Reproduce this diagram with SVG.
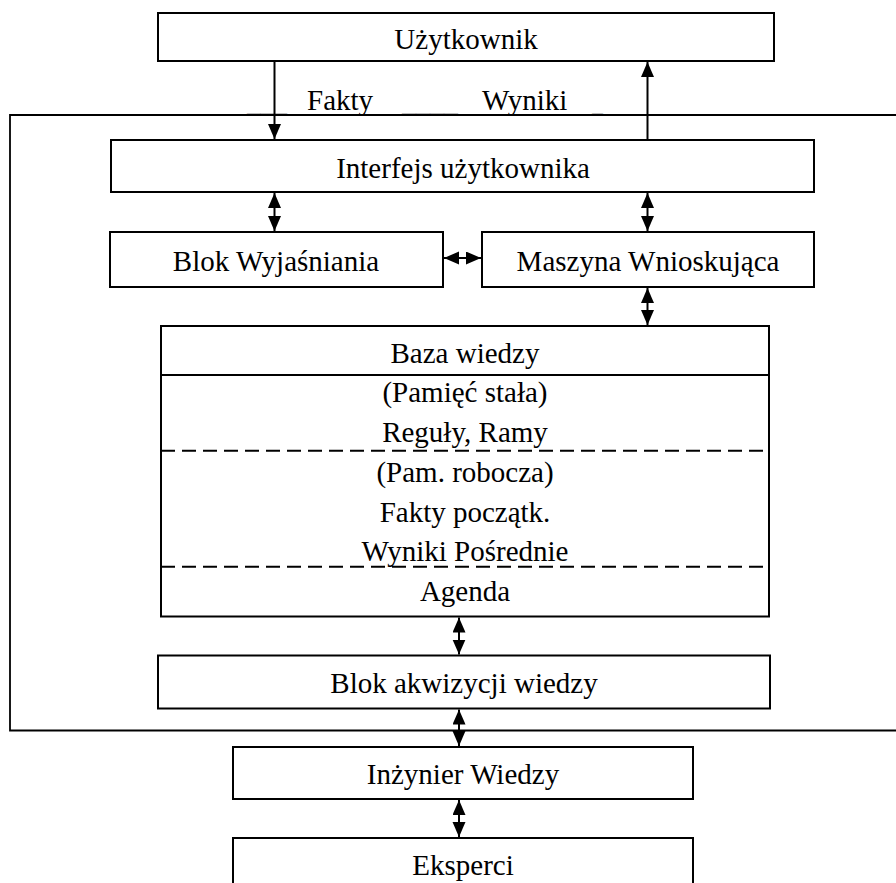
<svg xmlns="http://www.w3.org/2000/svg" width="896" height="883" viewBox="0 0 896 883" font-family="Liberation Serif, DejaVu Serif, serif" font-size="29">
<style>
  .box { fill: #fff; stroke: #000; stroke-width: 2; }
  .t { text-anchor: middle; }
  .c { stroke: #000; stroke-width: 2; fill: none; }
  .dash { stroke: #000; stroke-width: 2; stroke-dasharray: 14 7; fill: none; }
</style>
<defs>
  <marker id="ah" markerUnits="userSpaceOnUse" markerWidth="15" markerHeight="14" refX="15" refY="6.5" orient="auto-start-reverse">
    <path d="M0,0 L15,6.5 L0,13 z" fill="#000"/>
  </marker>
</defs>
<rect width="896" height="883" fill="#fff"/>

<g id="system-boundary">
  <path d="M 900 115 H 10 V 730.5 H 900" fill="none" stroke="#000" stroke-width="1.8"/>
</g>

<g id="uzytkownik">
  <rect class="box" x="158" y="13" width="616" height="48"/>
  <text class="t" x="466" y="49">Użytkownik</text>
</g>

<g id="interfejs">
  <rect class="box" x="111" y="140" width="703" height="52"/>
  <text class="t" x="463" y="178">Interfejs użytkownika</text>
</g>

<g id="blok-wyjasniania">
  <rect class="box" x="110" y="232" width="333" height="55"/>
  <text class="t" x="276" y="271">Blok Wyjaśniania</text>
</g>

<g id="maszyna">
  <rect class="box" x="482" y="232" width="332" height="55"/>
  <text class="t" x="648" y="271">Maszyna Wnioskująca</text>
</g>

<g id="baza-wiedzy">
  <rect class="box" x="161" y="326" width="608" height="290.5"/>
  <line class="c" x1="161" y1="375" x2="769" y2="375"/>
  <line class="dash" x1="161" y1="450.7" x2="769" y2="450.7"/>
  <line class="dash" x1="161" y1="566.7" x2="769" y2="566.7"/>
  <text class="t" x="465" y="363">Baza wiedzy</text>
  <text class="t" x="465" y="402">(Pamięć stała)</text>
  <text class="t" x="465" y="442">Reguły, Ramy</text>
  <text class="t" x="465" y="482">(Pam. robocza)</text>
  <text class="t" x="465" y="522">Fakty początk.</text>
  <text class="t" x="465" y="561">Wyniki Pośrednie</text>
  <text class="t" x="465" y="601">Agenda</text>
</g>

<g id="blok-akwizycji">
  <rect class="box" x="158" y="655.5" width="612" height="53"/>
  <text class="t" x="464" y="693">Blok akwizycji wiedzy</text>
</g>

<g id="inzynier">
  <rect class="box" x="233" y="747" width="460" height="52"/>
  <text class="t" x="463" y="784">Inżynier Wiedzy</text>
</g>

<g id="eksperci">
  <rect class="box" x="233" y="838" width="460" height="70"/>
  <text class="t" x="463" y="875">Eksperci</text>
</g>

<g id="labels">
  <text x="247" y="111.5" textLength="40" lengthAdjust="spacingAndGlyphs">___</text>
  <text x="307" y="110">Fakty</text>
  <text x="402" y="111.5" textLength="56" lengthAdjust="spacingAndGlyphs">____</text>
  <text x="482" y="110">Wyniki</text>
  <text x="592" y="111.5" textLength="11" lengthAdjust="spacingAndGlyphs">_</text>
</g>

<g id="connectors">
  <line class="c" x1="274.5" y1="61" x2="274.5" y2="139" marker-end="url(#ah)"/>
  <line class="c" x1="647.5" y1="140" x2="647.5" y2="62" marker-end="url(#ah)"/>
  <line class="c" x1="274.5" y1="193" x2="274.5" y2="231" marker-start="url(#ah)" marker-end="url(#ah)"/>
  <line class="c" x1="647.5" y1="193" x2="647.5" y2="231" marker-start="url(#ah)" marker-end="url(#ah)"/>
  <line class="c" x1="444" y1="258" x2="481" y2="258" marker-start="url(#ah)" marker-end="url(#ah)"/>
  <line class="c" x1="647.5" y1="288" x2="647.5" y2="325" marker-start="url(#ah)" marker-end="url(#ah)"/>
  <line class="c" x1="459" y1="617.5" x2="459" y2="654.5" marker-start="url(#ah)" marker-end="url(#ah)"/>
  <line class="c" x1="459" y1="709.5" x2="459" y2="746" marker-start="url(#ah)" marker-end="url(#ah)"/>
  <line class="c" x1="459" y1="800" x2="459" y2="837" marker-start="url(#ah)" marker-end="url(#ah)"/>
</g>
</svg>
